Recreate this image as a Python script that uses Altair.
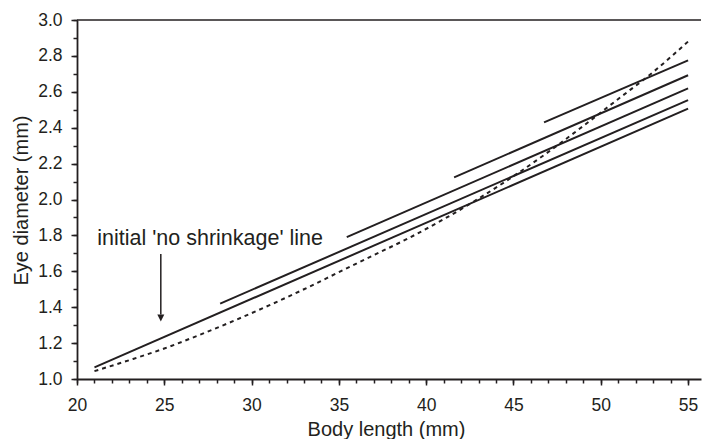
import altair as alt
import pandas as pd

INK = "#231f20"
FONT = "Liberation Sans"

# Solid lines (start / end points)
line_ids = ["L1", "L2", "L3", "L4", "L5"]
line_x_start = [21.0, 28.2, 35.45, 41.6, 46.75]
line_y_start = [1.065, 1.42, 1.79, 2.123, 2.43]
line_x_end = [55.0, 55.0, 55.0, 55.0, 55.0]
line_y_end = [2.506, 2.554, 2.619, 2.692, 2.775]

# Dotted curve
curve_x = [21, 23, 25, 27, 29, 31, 33, 35, 37, 39, 41, 43, 45, 47, 49, 51, 53, 55]
curve_y = [1.044, 1.105, 1.170, 1.245, 1.325, 1.41, 1.50, 1.595, 1.69, 1.785,
           1.89, 2.005, 2.13, 2.265, 2.41, 2.56, 2.71, 2.88]

# Annotation and arrow
ann_x = [21.16]
ann_y = [1.749]
ann_text = ["initial 'no shrinkage' line"]
arrow_x = [24.8]
arrow_top = [1.697]
arrow_base = [1.36]
arrow_tip = [1.321]

# Ticks
x_major = [20, 25, 30, 35, 40, 45, 50, 55]
x_minor = list(range(20, 56))
y_major = [1.0, 1.2, 1.4, 1.6, 1.8, 2.0, 2.2, 2.4, 2.6, 2.8, 3.0]
y_minor = [1.0, 1.1, 1.2, 1.3, 1.4, 1.5, 1.6, 1.7, 1.8, 1.9, 2.0,
           2.1, 2.2, 2.3, 2.4, 2.5, 2.6, 2.7, 2.8, 2.9, 3.0]

rows = []
for i, lid in enumerate(line_ids):
    rows.append({"id": lid, "x": line_x_start[i], "y": line_y_start[i]})
    rows.append({"id": lid, "x": line_x_end[i], "y": line_y_end[i]})
df_lines = pd.DataFrame(rows)
df_curve = pd.DataFrame({"x": curve_x, "y": curve_y})
df_ann = pd.DataFrame({"x": ann_x, "y": ann_y, "t": ann_text})
df_arrow = pd.DataFrame({"x": arrow_x, "y": arrow_top, "y2": arrow_base, "tip": arrow_tip})

xscale = alt.Scale(domain=[20, 55.74], nice=False, zero=False)
yscale = alt.Scale(domain=[1.0, 3.0], nice=False, zero=False)

common = dict(grid=False, tickColor=INK, tickWidth=1.5, labelOverlap=False, labelFlush=False)

x_major_axis = alt.Axis(
    orient="bottom", values=x_major, tickSize=6, title="Body length (mm)",
    domainColor=INK, domainWidth=1.8,
    labelColor=INK, labelFont=FONT, labelFontSize=17.5, labelPadding=11,
    titleColor=INK, titleFont=FONT, titleFontSize=20, titleFontWeight="normal",
    titleBaseline="alphabetic", titleY=56, titleX=309, **common,
)
x_minor_axis = alt.Axis(orient="bottom", values=x_minor, tickSize=4, labels=False,
                        domain=False, title=None, **common)

y_major_axis = alt.Axis(
    orient="left", values=y_major, format=".1f", tickSize=6, title="Eye diameter (mm)",
    domainColor=INK, domainWidth=1.8,
    labelColor=INK, labelFont=FONT, labelFontSize=17.5, labelPadding=9,
    titleColor=INK, titleFont=FONT, titleFontSize=20, titleFontWeight="normal",
    titleAngle=-90, titleBaseline="alphabetic", titleX=-50, titleY=180, titleAlign="center",
    **common,
)
y_minor_axis = alt.Axis(orient="left", values=y_minor, tickSize=4, labels=False,
                        domain=False, title=None, **common)

X = lambda f="x:Q", ax=None: alt.X(f, scale=xscale, axis=ax)
Y = lambda f="y:Q", ax=None: alt.Y(f, scale=yscale, axis=ax)

minor_axes = alt.Chart(df_curve).mark_point(opacity=0).encode(
    x=X(ax=x_minor_axis), y=Y(ax=y_minor_axis)
)
major_axes = alt.Chart(df_curve).mark_point(opacity=0).encode(
    x=X(ax=x_major_axis), y=Y(ax=y_major_axis)
)

solid = alt.Chart(df_lines).mark_line(color=INK, strokeWidth=2).encode(
    x=X(), y=Y(), detail="id:N"
)

dotted = alt.Chart(df_curve).mark_line(
    color=INK, strokeWidth=2, strokeDash=[4, 4], interpolate="monotone"
).encode(x=X(), y=Y())

shaft = alt.Chart(df_arrow).mark_rule(color=INK, strokeWidth=1.5).encode(
    x=X(), y=Y(), y2="y2:Q"
)

head = alt.Chart(df_arrow).mark_point(
    shape="M-0.5,-1L0.5,-1L0,0Z", filled=True, size=196, color=INK, opacity=1, strokeWidth=0
).encode(x=X(), y=Y("tip:Q"))

label = alt.Chart(df_ann).mark_text(
    align="left", baseline="alphabetic", font=FONT, fontSize=21.5, color=INK
).encode(x=X(), y=Y(), text="t:N")

top_border = alt.Chart(df_ann).mark_rule(color=INK, strokeWidth=1.6).encode(
    x=alt.value(0), x2=alt.value(624), y=alt.value(0)
)

chart = alt.layer(
    minor_axes, major_axes, solid, dotted, shaft, head, label, top_border
).resolve_axis(x="independent", y="independent").properties(
    width=624,
    height=359,
    autosize=alt.AutoSizeParams(type="none"),
    padding={"left": 77, "top": 20, "right": 1, "bottom": 60},
    background="white",
).configure_view(stroke=None)

chart.save("out.html", embed_options={"renderer": "svg", "actions": False})
